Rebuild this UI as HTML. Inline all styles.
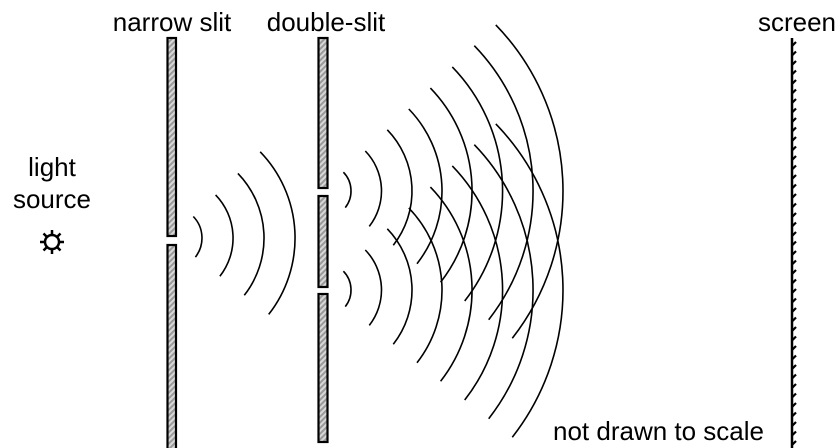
<!DOCTYPE html>
<html><head><meta charset="utf-8"><style>
html,body{margin:0;padding:0;background:#fff;}
svg{display:block;}
text{font-family:"Liberation Sans",Arial,sans-serif;font-size:26px;fill:#000;}
</style></head><body>
<svg width="838" height="448" viewBox="0 0 838 448" xmlns="http://www.w3.org/2000/svg">
<defs>
<pattern id="h" width="4" height="4" patternUnits="userSpaceOnUse" patternTransform="rotate(45)">
<rect width="4" height="4" fill="#d8d8d8"/><rect width="2" height="4" fill="#9a9a9a"/>
</pattern>
</defs>
<text x="172" y="31" text-anchor="middle">narrow slit</text>
<text x="326" y="31" text-anchor="middle">double-slit</text>
<text x="797" y="31" text-anchor="middle">screen</text>
<text x="52" y="176" text-anchor="middle">light</text>
<text x="52" y="208" text-anchor="middle">source</text>
<text x="553" y="440" textLength="211" lengthAdjust="spacingAndGlyphs">not drawn to scale</text>
<g stroke="#000" stroke-width="2.5" fill="none">
<circle cx="52" cy="242" r="7"/>
<path d="M52 230v4M52 250v4M40 242h4M60 242h4M43.5 233.5l3 3M57.5 247.5l3 3M60.5 233.5l-3 3M43.5 250.5l3-3"/>
</g>
<g stroke="#000" stroke-width="2.2" fill="url(#h)">
<rect x="167.5" y="38" width="8.5" height="198"/>
<rect x="167.5" y="245" width="8.5" height="210"/>
<rect x="318.5" y="38" width="9" height="150"/>
<rect x="318.5" y="196" width="9" height="91"/>
<rect x="318.5" y="294" width="9" height="148"/>
</g>
<g stroke="#000" stroke-width="1.6" fill="none">
<path d="M193.3,216.5A31,31 0 0 1 195.4,257.1"/>
<path d="M215.6,194.9A62,62 0 0 1 219.9,276.2"/>
<path d="M237.9,173.4A93,93 0 0 1 244.3,295.3"/>
<path d="M260.2,151.8A124,124 0 0 1 268.7,314.4"/>
<path d="M343.4,172.2A27,27 0 0 1 345.3,207.6"/>
<path d="M365.3,151A57.5,57.5 0 0 1 369.3,226.4"/>
<path d="M387.3,129.8A88,88 0 0 1 393.3,245.2"/>
<path d="M408.8,109A118,118 0 0 1 417,263.7"/>
<path d="M430.4,88.1A148,148 0 0 1 440.6,282.2"/>
<path d="M452.3,66.9A178.5,178.5 0 0 1 464.7,301"/>
<path d="M474.3,45.7A209,209 0 0 1 488.7,319.7"/>
<path d="M495.8,24.9A239,239 0 0 1 512.3,338.2"/>
<path d="M343.4,271.2A27,27 0 0 1 345.3,306.6"/>
<path d="M365.3,250A57.5,57.5 0 0 1 369.3,325.4"/>
<path d="M387.3,228.8A88,88 0 0 1 393.3,344.2"/>
<path d="M408.8,208A118,118 0 0 1 417,362.7"/>
<path d="M430.4,187.1A148,148 0 0 1 440.6,381.2"/>
<path d="M452.3,165.9A178.5,178.5 0 0 1 464.7,400"/>
<path d="M474.3,144.7A209,209 0 0 1 488.7,418.7"/>
<path d="M495.8,123.9A239,239 0 0 1 512.3,437.2"/>
</g>
<line x1="792" y1="38" x2="792" y2="448" stroke="#000" stroke-width="2.5"/>
<path stroke="#000" stroke-width="2.2" fill="none" d="M792 46l4-4M792 55.5l4-4M792 65l4-4M792 74.5l4-4M792 84l4-4M792 93.5l4-4M792 103l4-4M792 112.5l4-4M792 122l4-4M792 131.5l4-4M792 141l4-4M792 150.5l4-4M792 160l4-4M792 169.5l4-4M792 179l4-4M792 188.5l4-4M792 198l4-4M792 207.5l4-4M792 217l4-4M792 226.5l4-4M792 236l4-4M792 245.5l4-4M792 255l4-4M792 264.5l4-4M792 274l4-4M792 283.5l4-4M792 293l4-4M792 302.5l4-4M792 312l4-4M792 321.5l4-4M792 331l4-4M792 340.5l4-4M792 350l4-4M792 359.5l4-4M792 369l4-4M792 378.5l4-4M792 388l4-4M792 397.5l4-4M792 407l4-4M792 416.5l4-4M792 426l4-4M792 435.5l4-4M792 445l4-4"/>
</svg>
</body></html>
